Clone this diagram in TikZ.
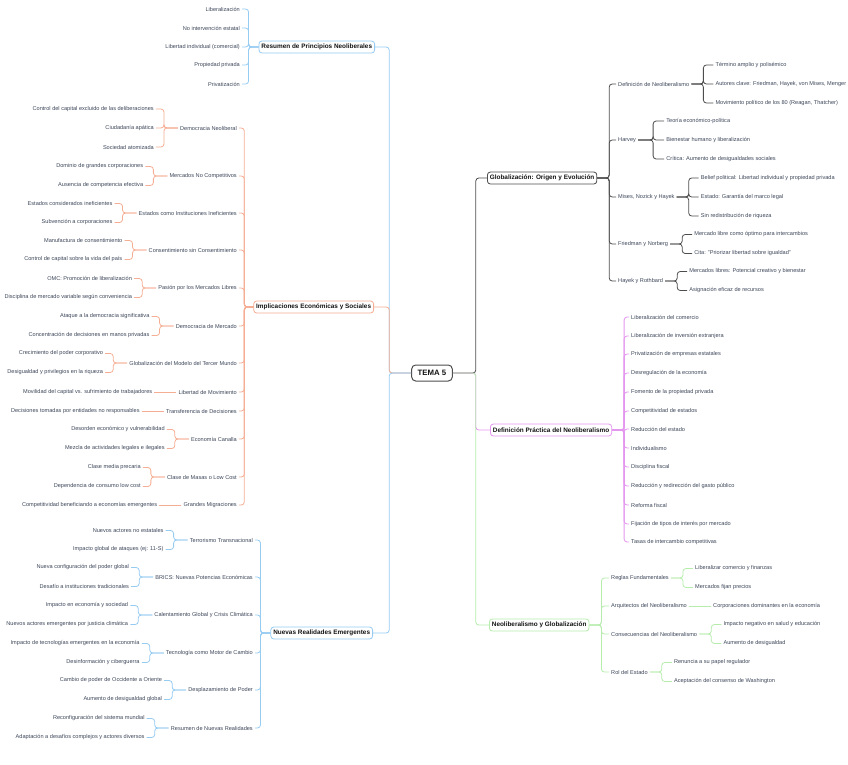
\documentclass[tikz,border=0pt]{standalone}
\usepackage{fontspec}
\setmainfont{Liberation Sans}
\usetikzlibrary{positioning}
\definecolor{MMBlue}{HTML}{96CBF2}
\definecolor{MMOrange}{HTML}{F5AE94}
\definecolor{MMGray}{HTML}{4D4D4D}
\definecolor{MMPink}{HTML}{E396EE}
\definecolor{MMGreen}{HTML}{B6ECAC}
\definecolor{MMText}{HTML}{3C4659}
\definecolor{MMDark}{HTML}{141414}

\begin{document}
\begin{tikzpicture}[x=1pt, y=-1pt, node distance=22pt,
  leaf/.style={inner xsep=2pt, inner ysep=1pt, text=MMText, font=\fontsize{5.6}{6.5}\selectfont},
  topic/.style={draw, fill=white, rounded corners=3pt, line width=0.8pt, inner xsep=2.5pt, inner ysep=0pt, minimum height=12pt, text=MMDark, font=\fontsize{6.4}{7}\selectfont\bfseries},
  rootbox/.style={draw=MMGray, fill=white, rounded corners=4pt, line width=1pt, inner xsep=6pt, inner ysep=0pt, minimum height=16pt, text=MMDark, font=\fontsize{7.8}{9}\selectfont\bfseries},
  link/.style={line width=0.8pt, rounded corners=3pt}]
  \useasboundingbox (0,0) rectangle (848,764);

  \node[rootbox] (root) at (432,373) {TEMA 5};

  % left branches
  \node[topic, draw=MMBlue, anchor=east] (res) at (375,47) {Resumen de Principios Neoliberales};
  \node[topic, draw=MMOrange, anchor=east] (imp) at (374,307) {Implicaciones Económicas y Sociales};
  \node[topic, draw=MMBlue, anchor=east] (nue) at (373,633) {Nuevas Realidades Emergentes};

  \draw[link, MMBlue] (root.west) -- ([xshift=-22pt]root.west) |- (res.east);
  \draw[link, MMOrange] (root.west) -- ([xshift=-22pt]root.west) |- (imp.east);
  \draw[link, MMBlue] (root.west) -- ([xshift=-22pt]root.west) |- (nue.east);

  \node[leaf, anchor=east] (res1) at (242,9) {Liberalización};
  \node[leaf, anchor=east] (res2) at (242,28) {No intervención estatal};
  \node[leaf, anchor=east] (res3) at (242,47) {Libertad individual (comercial)};
  \node[leaf, anchor=east] (res4) at (242,65) {Propiedad privada};
  \node[leaf, anchor=east] (res5) at (242,84) {Privatización};
  \draw[link, MMBlue] (res.west) -- ([xshift=-10pt]res.west) |- (res1.east);
  \draw[link, MMBlue] (res.west) -- ([xshift=-10pt]res.west) |- (res2.east);
  \draw[link, MMBlue] (res.west) -- ([xshift=-10pt]res.west) |- (res3.east);
  \draw[link, MMBlue] (res.west) -- ([xshift=-10pt]res.west) |- (res4.east);
  \draw[link, MMBlue] (res.west) -- ([xshift=-10pt]res.west) |- (res5.east);

  \node[leaf, anchor=east] (imp1) at (239,128) {Democracia Neoliberal};
  \node[leaf, anchor=east] (imp2) at (239,176) {Mercados No Competitivos};
  \node[leaf, anchor=east] (imp3) at (239,213) {Estados como Instituciones Ineficientes};
  \node[leaf, anchor=east] (imp4) at (239,250) {Consentimiento sin Consentimiento};
  \node[leaf, anchor=east] (imp5) at (239,288) {Pasión por los Mercados Libres};
  \node[leaf, anchor=east] (imp6) at (239,326) {Democracia de Mercado};
  \node[leaf, anchor=east] (imp7) at (239,363) {Globalización del Modelo del Tercer Mundo};
  \node[leaf, anchor=east] (imp8) at (239,392) {Libertad de Movimiento};
  \node[leaf, anchor=east] (imp9) at (239,411) {Transferencia de Decisiones};
  \node[leaf, anchor=east] (imp10) at (239,439) {Economía Canalla};
  \node[leaf, anchor=east] (imp11) at (239,477) {Clase de Masas o Low Cost};
  \node[leaf, anchor=east] (imp12) at (239,505) {Grandes Migraciones};
  \draw[link, MMOrange] (imp.west) -- ([xshift=-9pt]imp.west) |- (imp1.east);
  \draw[link, MMOrange] (imp.west) -- ([xshift=-9pt]imp.west) |- (imp2.east);
  \draw[link, MMOrange] (imp.west) -- ([xshift=-9pt]imp.west) |- (imp3.east);
  \draw[link, MMOrange] (imp.west) -- ([xshift=-9pt]imp.west) |- (imp4.east);
  \draw[link, MMOrange] (imp.west) -- ([xshift=-9pt]imp.west) |- (imp5.east);
  \draw[link, MMOrange] (imp.west) -- ([xshift=-9pt]imp.west) |- (imp6.east);
  \draw[link, MMOrange] (imp.west) -- ([xshift=-9pt]imp.west) |- (imp7.east);
  \draw[link, MMOrange] (imp.west) -- ([xshift=-9pt]imp.west) |- (imp8.east);
  \draw[link, MMOrange] (imp.west) -- ([xshift=-9pt]imp.west) |- (imp9.east);
  \draw[link, MMOrange] (imp.west) -- ([xshift=-9pt]imp.west) |- (imp10.east);
  \draw[link, MMOrange] (imp.west) -- ([xshift=-9pt]imp.west) |- (imp11.east);
  \draw[link, MMOrange] (imp.west) -- ([xshift=-9pt]imp.west) |- (imp12.east);

  \node[leaf, left=of imp1, yshift=19pt] (imp1a) {Control del capital excluido de las deliberaciones};
  \node[leaf, left=of imp1] (imp1b) {Ciudadanía apática};
  \node[leaf, left=of imp1, yshift=-19pt] (imp1c) {Sociedad atomizada};
  \node[leaf, left=of imp2, yshift=9.5pt] (imp2a) {Dominio de grandes corporaciones};
  \node[leaf, left=of imp2, yshift=-9.5pt] (imp2b) {Ausencia de competencia efectiva};
  \node[leaf, left=of imp3, yshift=9.5pt] (imp3a) {Estados considerados ineficientes};
  \node[leaf, left=of imp3, yshift=-9.5pt] (imp3b) {Subvención a corporaciones};
  \node[leaf, left=of imp4, yshift=9.5pt] (imp4a) {Manufactura de consentimiento};
  \node[leaf, left=of imp4, yshift=-9.5pt] (imp4b) {Control de capital sobre la vida del país};
  \node[leaf, left=of imp5, yshift=9.5pt] (imp5a) {OMC: Promoción de liberalización};
  \node[leaf, left=of imp5, yshift=-9.5pt] (imp5b) {Disciplina de mercado variable según conveniencia};
  \node[leaf, left=of imp6, yshift=9.5pt] (imp6a) {Ataque a la democracia significativa};
  \node[leaf, left=of imp6, yshift=-9.5pt] (imp6b) {Concentración de decisiones en manos privadas};
  \node[leaf, left=of imp7, yshift=9.5pt] (imp7a) {Crecimiento del poder corporativo};
  \node[leaf, left=of imp7, yshift=-9.5pt] (imp7b) {Desigualdad y privilegios en la riqueza};
  \node[leaf, left=of imp8] (imp8a) {Movilidad del capital vs. sufrimiento de trabajadores};
  \node[leaf, left=of imp9] (imp9a) {Decisiones tomadas por entidades no responsables};
  \node[leaf, left=of imp10, yshift=9.5pt] (imp10a) {Desorden económico y vulnerabilidad};
  \node[leaf, left=of imp10, yshift=-9.5pt] (imp10b) {Mezcla de actividades legales e ilegales};
  \node[leaf, left=of imp11, yshift=9.5pt] (imp11a) {Clase media precaria};
  \node[leaf, left=of imp11, yshift=-9.5pt] (imp11b) {Dependencia de consumo low cost};
  \node[leaf, left=of imp12] (imp12a) {Competitividad beneficiando a economías emergentes};
  \draw[link, MMOrange] (imp1.west) -- ([xshift=-14pt]imp1.west) |- (imp1a.east);
  \draw[link, MMOrange] (imp1.west) -- ([xshift=-14pt]imp1.west) |- (imp1b.east);
  \draw[link, MMOrange] (imp1.west) -- ([xshift=-14pt]imp1.west) |- (imp1c.east);
  \draw[link, MMOrange] (imp2.west) -- ([xshift=-14pt]imp2.west) |- (imp2a.east);
  \draw[link, MMOrange] (imp2.west) -- ([xshift=-14pt]imp2.west) |- (imp2b.east);
  \draw[link, MMOrange] (imp3.west) -- ([xshift=-14pt]imp3.west) |- (imp3a.east);
  \draw[link, MMOrange] (imp3.west) -- ([xshift=-14pt]imp3.west) |- (imp3b.east);
  \draw[link, MMOrange] (imp4.west) -- ([xshift=-14pt]imp4.west) |- (imp4a.east);
  \draw[link, MMOrange] (imp4.west) -- ([xshift=-14pt]imp4.west) |- (imp4b.east);
  \draw[link, MMOrange] (imp5.west) -- ([xshift=-14pt]imp5.west) |- (imp5a.east);
  \draw[link, MMOrange] (imp5.west) -- ([xshift=-14pt]imp5.west) |- (imp5b.east);
  \draw[link, MMOrange] (imp6.west) -- ([xshift=-14pt]imp6.west) |- (imp6a.east);
  \draw[link, MMOrange] (imp6.west) -- ([xshift=-14pt]imp6.west) |- (imp6b.east);
  \draw[link, MMOrange] (imp7.west) -- ([xshift=-14pt]imp7.west) |- (imp7a.east);
  \draw[link, MMOrange] (imp7.west) -- ([xshift=-14pt]imp7.west) |- (imp7b.east);
  \draw[link, MMOrange] (imp8.west) -- (imp8a.east);
  \draw[link, MMOrange] (imp9.west) -- (imp9a.east);
  \draw[link, MMOrange] (imp10.west) -- ([xshift=-14pt]imp10.west) |- (imp10a.east);
  \draw[link, MMOrange] (imp10.west) -- ([xshift=-14pt]imp10.west) |- (imp10b.east);
  \draw[link, MMOrange] (imp11.west) -- ([xshift=-14pt]imp11.west) |- (imp11a.east);
  \draw[link, MMOrange] (imp11.west) -- ([xshift=-14pt]imp11.west) |- (imp11b.east);
  \draw[link, MMOrange] (imp12.west) -- (imp12a.east);

  \node[leaf, anchor=east] (nue1) at (255,540) {Terrorismo Transnacional};
  \node[leaf, anchor=east] (nue2) at (255,577) {BRICS: Nuevas Potencias Económicas};
  \node[leaf, anchor=east] (nue3) at (255,615) {Calentamiento Global y Crisis Climática};
  \node[leaf, anchor=east] (nue4) at (255,653) {Tecnología como Motor de Cambio};
  \node[leaf, anchor=east] (nue5) at (255,690) {Desplazamiento de Poder};
  \node[leaf, anchor=east] (nue6) at (255,728) {Resumen de Nuevas Realidades};
  \draw[link, MMBlue] (nue.west) -- ([xshift=-10pt]nue.west) |- (nue1.east);
  \draw[link, MMBlue] (nue.west) -- ([xshift=-10pt]nue.west) |- (nue2.east);
  \draw[link, MMBlue] (nue.west) -- ([xshift=-10pt]nue.west) |- (nue3.east);
  \draw[link, MMBlue] (nue.west) -- ([xshift=-10pt]nue.west) |- (nue4.east);
  \draw[link, MMBlue] (nue.west) -- ([xshift=-10pt]nue.west) |- (nue5.east);
  \draw[link, MMBlue] (nue.west) -- ([xshift=-10pt]nue.west) |- (nue6.east);

  \node[leaf, left=of nue1, yshift=9.5pt] (nue1a) {Nuevos actores no estatales};
  \node[leaf, left=of nue1, yshift=-9.5pt] (nue1b) {Impacto global de ataques (ej: 11-S)};
  \node[leaf, left=of nue2, yshift=9.5pt] (nue2a) {Nueva configuración del poder global};
  \node[leaf, left=of nue2, yshift=-9.5pt] (nue2b) {Desafío a instituciones tradicionales};
  \node[leaf, left=of nue3, yshift=9.5pt] (nue3a) {Impacto en economía y sociedad};
  \node[leaf, left=of nue3, yshift=-9.5pt] (nue3b) {Nuevos actores emergentes por justicia climática};
  \node[leaf, left=of nue4, yshift=9.5pt] (nue4a) {Impacto de tecnologías emergentes en la economía};
  \node[leaf, left=of nue4, yshift=-9.5pt] (nue4b) {Desinformación y ciberguerra};
  \node[leaf, left=of nue5, yshift=9.5pt] (nue5a) {Cambio de poder de Occidente a Oriente};
  \node[leaf, left=of nue5, yshift=-9.5pt] (nue5b) {Aumento de desigualdad global};
  \node[leaf, left=of nue6, yshift=9.5pt] (nue6a) {Reconfiguración del sistema mundial};
  \node[leaf, left=of nue6, yshift=-9.5pt] (nue6b) {Adaptación a desafíos complejos y actores diversos};
  \draw[link, MMBlue] (nue1.west) -- ([xshift=-14pt]nue1.west) |- (nue1a.east);
  \draw[link, MMBlue] (nue1.west) -- ([xshift=-14pt]nue1.west) |- (nue1b.east);
  \draw[link, MMBlue] (nue2.west) -- ([xshift=-14pt]nue2.west) |- (nue2a.east);
  \draw[link, MMBlue] (nue2.west) -- ([xshift=-14pt]nue2.west) |- (nue2b.east);
  \draw[link, MMBlue] (nue3.west) -- ([xshift=-14pt]nue3.west) |- (nue3a.east);
  \draw[link, MMBlue] (nue3.west) -- ([xshift=-14pt]nue3.west) |- (nue3b.east);
  \draw[link, MMBlue] (nue4.west) -- ([xshift=-14pt]nue4.west) |- (nue4a.east);
  \draw[link, MMBlue] (nue4.west) -- ([xshift=-14pt]nue4.west) |- (nue4b.east);
  \draw[link, MMBlue] (nue5.west) -- ([xshift=-14pt]nue5.west) |- (nue5a.east);
  \draw[link, MMBlue] (nue5.west) -- ([xshift=-14pt]nue5.west) |- (nue5b.east);
  \draw[link, MMBlue] (nue6.west) -- ([xshift=-14pt]nue6.west) |- (nue6a.east);
  \draw[link, MMBlue] (nue6.west) -- ([xshift=-14pt]nue6.west) |- (nue6b.east);

  % right branches
  \node[topic, draw=MMGray, anchor=west] (glob) at (487,178) {Globalización: Origen y Evolución};
  \node[topic, draw=MMPink, anchor=west] (prac) at (490,430) {Definición Práctica del Neoliberalismo};
  \node[topic, draw=MMGreen, anchor=west] (neog) at (489,625) {Neoliberalismo y Globalización};

  \draw[link, MMGray] (root.east) -- ([xshift=23pt]root.east) |- (glob.west);
  \draw[link, MMPink] (root.east) -- ([xshift=23pt]root.east) |- (prac.west);
  \draw[link, MMGreen] (root.east) -- ([xshift=23pt]root.east) |- (neog.west);

  \node[leaf, anchor=west] (glob1) at (616,84) {Definición de Neoliberalismo};
  \node[leaf, anchor=west] (glob2) at (616,140) {Harvey};
  \node[leaf, anchor=west] (glob3) at (616,197) {Mises, Nozick y Hayek};
  \node[leaf, anchor=west] (glob4) at (616,244) {Friedman y Norberg};
  \node[leaf, anchor=west] (glob5) at (616,281) {Hayek y Rothbard};
  \draw[link, MMGray] (glob.east) -- ([xshift=12pt]glob.east) |- (glob1.west);
  \draw[link, MMGray] (glob.east) -- ([xshift=12pt]glob.east) |- (glob2.west);
  \draw[link, MMGray] (glob.east) -- ([xshift=12pt]glob.east) |- (glob3.west);
  \draw[link, MMGray] (glob.east) -- ([xshift=12pt]glob.east) |- (glob4.west);
  \draw[link, MMGray] (glob.east) -- ([xshift=12pt]glob.east) |- (glob5.west);

  \node[leaf, right=of glob1, yshift=19pt] (glob1a) {Término amplio y polisémico};
  \node[leaf, right=of glob1] (glob1b) {Autores clave: Friedman, Hayek, von Mises, Menger};
  \node[leaf, right=of glob1, yshift=-19pt] (glob1c) {Movimiento político de los 80 (Reagan, Thatcher)};
  \node[leaf, right=of glob2, xshift=4pt, yshift=19pt] (glob2a) {Teoría económico-política};
  \node[leaf, right=of glob2, xshift=4pt] (glob2b) {Bienestar humano y liberalización};
  \node[leaf, right=of glob2, xshift=4pt, yshift=-19pt] (glob2c) {Crítica: Aumento de desigualdades sociales};
  \node[leaf, right=of glob3, yshift=19pt] (glob3a) {Belief political: Libertad individual y propiedad privada};
  \node[leaf, right=of glob3] (glob3b) {Estado: Garantía del marco legal};
  \node[leaf, right=of glob3, yshift=-19pt] (glob3c) {Sin redistribución de riqueza};
  \node[leaf, right=of glob4, yshift=9.5pt] (glob4a) {Mercado libre como óptimo para intercambios};
  \node[leaf, right=of glob4, yshift=-9.5pt] (glob4b) {Cita: "Priorizar libertad sobre igualdad"};
  \node[leaf, right=of glob5, yshift=9.5pt] (glob5a) {Mercados libres: Potencial creativo y bienestar};
  \node[leaf, right=of glob5, yshift=-9.5pt] (glob5b) {Asignación eficaz de recursos};
  \draw[link, MMGray] (glob1.east) -- ([xshift=12pt]glob1.east) |- (glob1a.west);
  \draw[link, MMGray] (glob1.east) -- ([xshift=12pt]glob1.east) |- (glob1b.west);
  \draw[link, MMGray] (glob1.east) -- ([xshift=12pt]glob1.east) |- (glob1c.west);
  \draw[link, MMGray] (glob2.east) -- ([xshift=15pt]glob2.east) |- (glob2a.west);
  \draw[link, MMGray] (glob2.east) -- ([xshift=15pt]glob2.east) |- (glob2b.west);
  \draw[link, MMGray] (glob2.east) -- ([xshift=15pt]glob2.east) |- (glob2c.west);
  \draw[link, MMGray] (glob3.east) -- ([xshift=12pt]glob3.east) |- (glob3a.west);
  \draw[link, MMGray] (glob3.east) -- ([xshift=12pt]glob3.east) |- (glob3b.west);
  \draw[link, MMGray] (glob3.east) -- ([xshift=12pt]glob3.east) |- (glob3c.west);
  \draw[link, MMGray] (glob4.east) -- ([xshift=12pt]glob4.east) |- (glob4a.west);
  \draw[link, MMGray] (glob4.east) -- ([xshift=12pt]glob4.east) |- (glob4b.west);
  \draw[link, MMGray] (glob5.east) -- ([xshift=12pt]glob5.east) |- (glob5a.west);
  \draw[link, MMGray] (glob5.east) -- ([xshift=12pt]glob5.east) |- (glob5b.west);

  \node[leaf, anchor=west] (prac1) at (629,317) {Liberalización del comercio};
  \node[leaf, anchor=west] (prac2) at (629,336) {Liberalización de inversión extranjera};
  \node[leaf, anchor=west] (prac3) at (629,354) {Privatización de empresas estatales};
  \node[leaf, anchor=west] (prac4) at (629,373) {Desregulación de la economía};
  \node[leaf, anchor=west] (prac5) at (629,392) {Fomento de la propiedad privada};
  \node[leaf, anchor=west] (prac6) at (629,411) {Competitividad de estados};
  \node[leaf, anchor=west] (prac7) at (629,429) {Reducción del estado};
  \node[leaf, anchor=west] (prac8) at (629,448) {Individualismo};
  \node[leaf, anchor=west] (prac9) at (629,467) {Disciplina fiscal};
  \node[leaf, anchor=west] (prac10) at (629,486) {Reducción y redirección del gasto público};
  \node[leaf, anchor=west] (prac11) at (629,505) {Reforma fiscal};
  \node[leaf, anchor=west] (prac12) at (629,524) {Fijación de tipos de interés por mercado};
  \node[leaf, anchor=west] (prac13) at (629,542) {Tasas de intercambio competitivas};
  \draw[link, MMPink] (prac.east) -- ([xshift=12pt]prac.east) |- (prac1.west);
  \draw[link, MMPink] (prac.east) -- ([xshift=12pt]prac.east) |- (prac2.west);
  \draw[link, MMPink] (prac.east) -- ([xshift=12pt]prac.east) |- (prac3.west);
  \draw[link, MMPink] (prac.east) -- ([xshift=12pt]prac.east) |- (prac4.west);
  \draw[link, MMPink] (prac.east) -- ([xshift=12pt]prac.east) |- (prac5.west);
  \draw[link, MMPink] (prac.east) -- ([xshift=12pt]prac.east) |- (prac6.west);
  \draw[link, MMPink] (prac.east) -- ([xshift=12pt]prac.east) |- (prac7.west);
  \draw[link, MMPink] (prac.east) -- ([xshift=12pt]prac.east) |- (prac8.west);
  \draw[link, MMPink] (prac.east) -- ([xshift=12pt]prac.east) |- (prac9.west);
  \draw[link, MMPink] (prac.east) -- ([xshift=12pt]prac.east) |- (prac10.west);
  \draw[link, MMPink] (prac.east) -- ([xshift=12pt]prac.east) |- (prac11.west);
  \draw[link, MMPink] (prac.east) -- ([xshift=12pt]prac.east) |- (prac12.west);
  \draw[link, MMPink] (prac.east) -- ([xshift=12pt]prac.east) |- (prac13.west);

  \node[leaf, anchor=west] (neog1) at (609,578) {Reglas Fundamentales};
  \node[leaf, anchor=west] (neog2) at (609,606) {Arquitectos del Neoliberalismo};
  \node[leaf, anchor=west] (neog3) at (609,634) {Consecuencias del Neoliberalismo};
  \node[leaf, anchor=west] (neog4) at (609,672) {Rol del Estado};
  \draw[link, MMGreen] (neog.east) -- ([xshift=12pt]neog.east) |- (neog1.west);
  \draw[link, MMGreen] (neog.east) -- ([xshift=12pt]neog.east) |- (neog2.west);
  \draw[link, MMGreen] (neog.east) -- ([xshift=12pt]neog.east) |- (neog3.west);
  \draw[link, MMGreen] (neog.east) -- ([xshift=12pt]neog.east) |- (neog4.west);

  \node[leaf, right=of neog1, yshift=9.5pt] (neog1a) {Liberalizar comercio y finanzas};
  \node[leaf, right=of neog1, yshift=-9.5pt] (neog1b) {Mercados fijan precios};
  \node[leaf, right=of neog2] (neog2a) {Corporaciones dominantes en la economía};
  \node[leaf, right=of neog3, yshift=9.5pt] (neog3a) {Impacto negativo en salud y educación};
  \node[leaf, right=of neog3, yshift=-9.5pt] (neog3b) {Aumento de desigualdad};
  \node[leaf, right=of neog4, yshift=9.5pt] (neog4a) {Renuncia a su papel regulador};
  \node[leaf, right=of neog4, yshift=-9.5pt] (neog4b) {Aceptación del consenso de Washington};
  \draw[link, MMGreen] (neog1.east) -- ([xshift=12pt]neog1.east) |- (neog1a.west);
  \draw[link, MMGreen] (neog1.east) -- ([xshift=12pt]neog1.east) |- (neog1b.west);
  \draw[link, MMGreen] (neog2.east) -- (neog2a.west);
  \draw[link, MMGreen] (neog3.east) -- ([xshift=12pt]neog3.east) |- (neog3a.west);
  \draw[link, MMGreen] (neog3.east) -- ([xshift=12pt]neog3.east) |- (neog3b.west);
  \draw[link, MMGreen] (neog4.east) -- ([xshift=12pt]neog4.east) |- (neog4a.west);
  \draw[link, MMGreen] (neog4.east) -- ([xshift=12pt]neog4.east) |- (neog4b.west);
\end{tikzpicture}
\end{document}
